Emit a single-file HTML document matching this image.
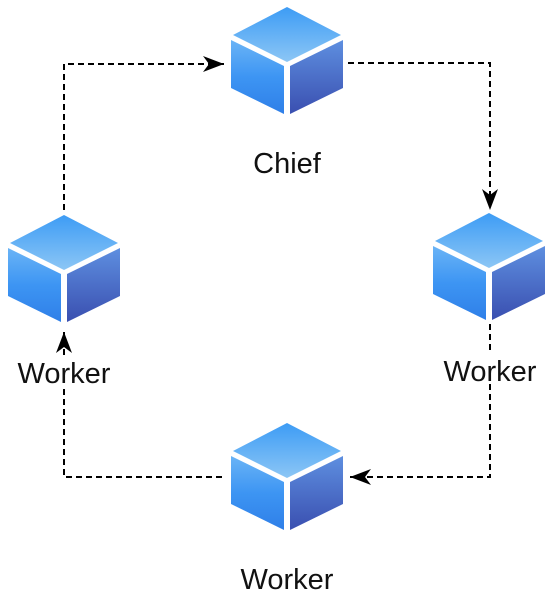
<!DOCTYPE html>
<html><head><style>html,body{margin:0;padding:0;background:#fff}svg{display:block}</style></head><body>
<svg width="553" height="600" viewBox="0 0 553 600" xmlns="http://www.w3.org/2000/svg">
<defs>
<linearGradient id="top" x1="0" y1="0" x2="0" y2="1"><stop offset="0" stop-color="#3d9cf5"/><stop offset="1" stop-color="#8cc6f5"/></linearGradient>
<linearGradient id="left" x1="0" y1="0" x2="0" y2="1"><stop offset="0" stop-color="#6ab4f6"/><stop offset="0.5" stop-color="#3d95f3"/><stop offset="1" stop-color="#2f7fe8"/></linearGradient>
<linearGradient id="right" x1="0" y1="0" x2="0" y2="1"><stop offset="0" stop-color="#5e8fe0"/><stop offset="1" stop-color="#3a4fb0"/></linearGradient>
<g id="cube">
<polygon points="0,-53 54,-25 0,2 -54,-25" fill="url(#top)"/>
<polygon points="-56,-20 -3,6 -3,54 -56,28" fill="url(#left)"/>
<polygon points="56,-20 3,6 3,54 56,28" fill="url(#right)"/>
</g>
<marker id="ah" markerWidth="22" markerHeight="18" refX="21" refY="9" orient="auto" markerUnits="userSpaceOnUse"><path d="M0,1 L21,9 L0,17 L6,9 Z" fill="#000"/></marker>
</defs>
<g fill="none" stroke="#000" stroke-width="2" stroke-dasharray="6,4">
<path d="M64,210 V64 H224" marker-end="url(#ah)"/>
<path d="M348,63 H490 V210" marker-end="url(#ah)"/>
<path d="M490,324 V477 H350" marker-end="url(#ah)"/>
<path d="M222,477 H64 V332" marker-end="url(#ah)"/>
</g>
<use href="#cube" x="287" y="60"/>
<use href="#cube" x="64" y="268"/>
<use href="#cube" x="489" y="266"/>
<use href="#cube" x="287" y="476"/>
<g font-family="Liberation Sans, sans-serif" font-size="29" text-anchor="middle" fill="#111">
<rect x="14" y="356" width="100" height="30" fill="#fff"/>
<rect x="438" y="354" width="104" height="30" fill="#fff"/>
<text x="287" y="173">Chief</text>
<text x="64" y="383">Worker</text>
<text x="490" y="381">Worker</text>
<text x="287" y="589">Worker</text>
</g>
</svg>
</body></html>
